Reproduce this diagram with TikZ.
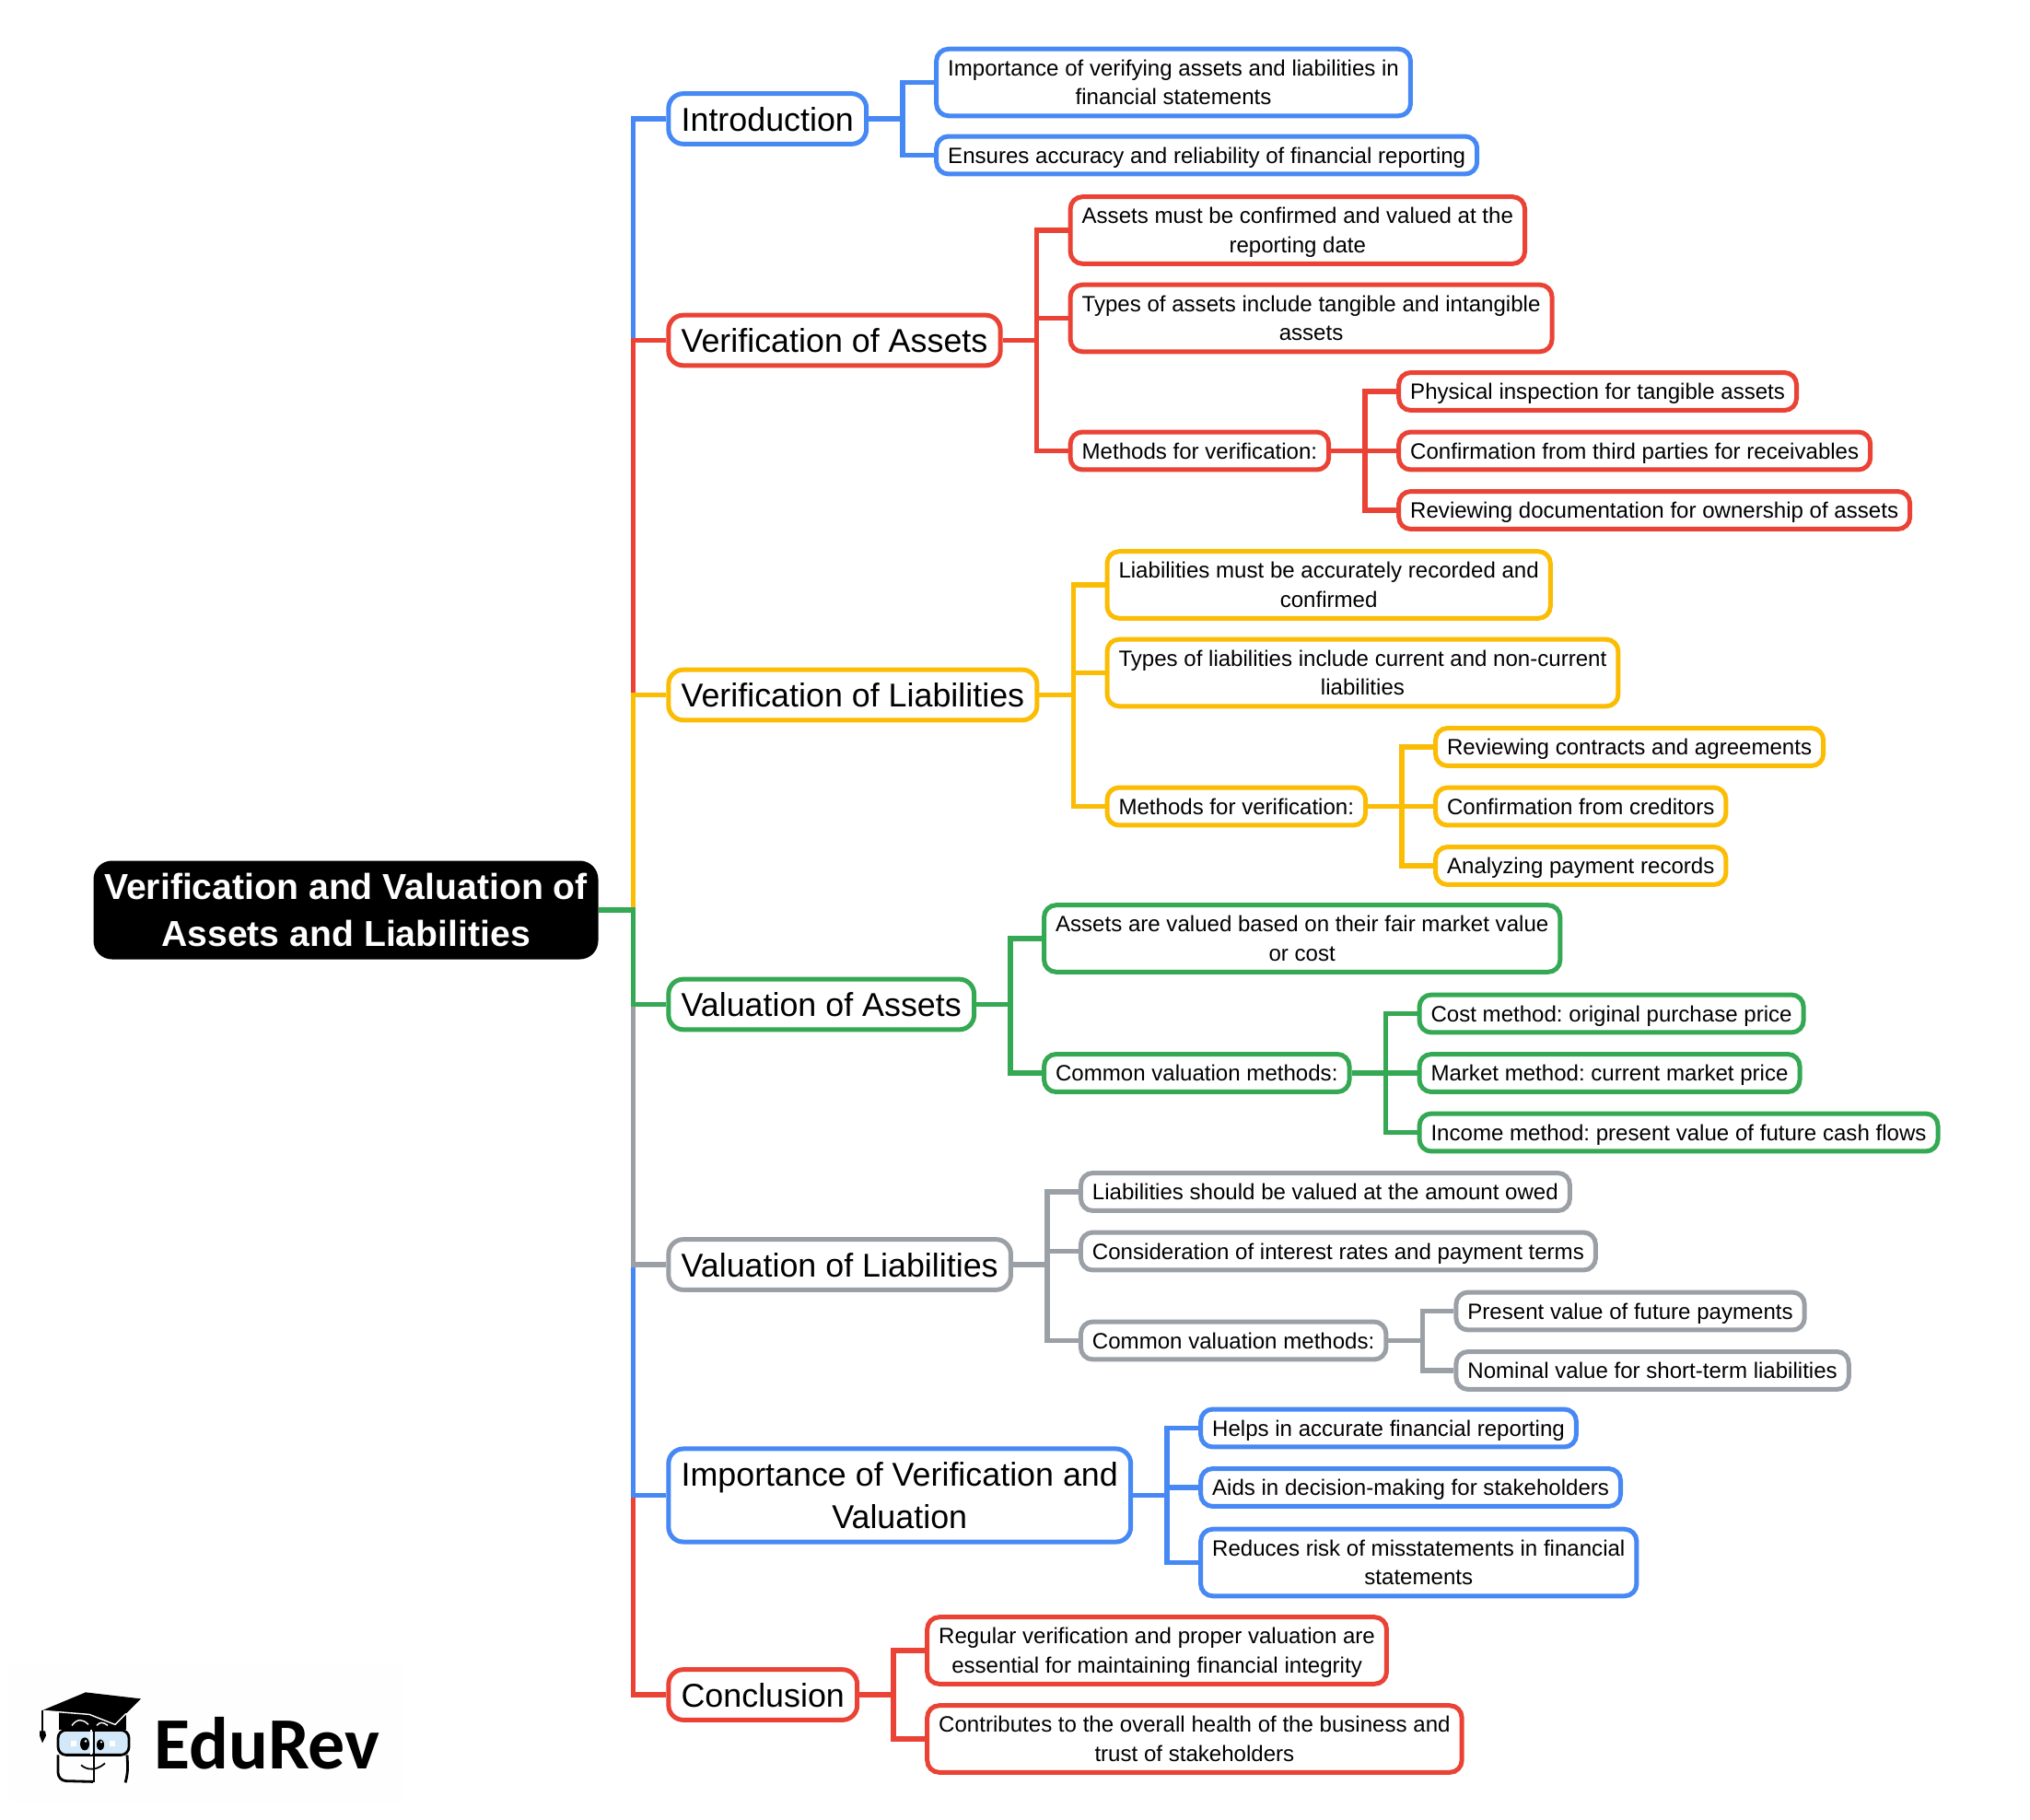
\documentclass[tikz,border=0pt]{standalone}
\usepackage{fontspec}
\setmainfont{Liberation Sans}
\newfontfamily\logofont{Carlito}
\usepackage{tikz}
\usetikzlibrary{positioning}
\definecolor{mapblue}{HTML}{4688F4}
\definecolor{mapred}{HTML}{EA4335}
\definecolor{mapyellow}{HTML}{FBBC04}
\definecolor{mapgreen}{HTML}{34A853}
\definecolor{mapgrey}{HTML}{9AA0A6}
\definecolor{lensblue}{HTML}{D3E8F8}

\begin{document}
\frenchspacing
\begin{tikzpicture}[
    node distance=1.42cm,
    rootbox/.style={rectangle, fill=black, text=white, font=\fontsize{22.3}{28.8}\selectfont\bfseries, align=center, rounded corners=0.4cm, minimum width=10.96cm, minimum height=2.14cm, inner sep=0pt},
    topic/.style={rectangle, draw, line width=0.1cm, fill=white, font=\fontsize{20.4}{26.4}\selectfont, align=center, rounded corners=0.32cm, inner xsep=0.275cm, inner ysep=0.083cm, execute at begin node={\rule[-5.75pt]{0pt}{26.4pt}}, execute at end node={\rule[-5.75pt]{0pt}{26.4pt}}},
    twotopic/.style={topic, execute at begin node={\rule[-5.75pt]{0pt}{52.8pt}}},
    leaf/.style={rectangle, draw, line width=0.1cm, fill=white, font=\fontsize{13.7}{18}\selectfont, align=center, rounded corners=0.26cm, inner xsep=0.25cm, inner ysep=0.093cm, execute at begin node={\rule[-4.1pt]{0pt}{18pt}}, execute at end node={\rule[-4.1pt]{0pt}{18pt}}},
    twoleaf/.style={leaf, execute at begin node={\rule[-4.1pt]{0pt}{36pt}}},
    elbow/.style={to path={-- ++(#1,0) |- (\tikztotarget)}},
    elbow/.default=0.74cm,
    branch/.style={line width=0.11cm, line join=miter}
]
\useasboundingbox (0,0) rectangle (44.08,-39.52);

% Root
\node[rootbox] (root) at (7.51,-19.76) {Verification and Valuation of\\Assets and Liabilities};

% Main topics
\node[topic, draw=mapblue, right=1.47cm of root, yshift=17.18cm] (intro) {Introduction};
\node[topic, draw=mapred, right=1.47cm of root, yshift=12.37cm] (vassets) {Verification of Assets};
\node[topic, draw=mapyellow, right=1.47cm of root, yshift=4.67cm] (vliab) {Verification of Liabilities};
\node[topic, draw=mapgreen, right=1.47cm of root, yshift=-2.05cm] (aassets) {Valuation of Assets};
\node[topic, draw=mapgrey, right=1.47cm of root, yshift=-7.70cm] (aliab) {Valuation of Liabilities};
\node[twotopic, draw=mapblue, right=1.47cm of root, yshift=-12.71cm] (importance) {Importance of Verification and\\Valuation};
\node[topic, draw=mapred, right=1.47cm of root, yshift=-17.04cm] (conclusion) {Conclusion};

% Introduction
\node[twoleaf, draw=mapblue, right=of intro, yshift=0.79cm] (intro1) {Importance of verifying assets and liabilities in\\financial statements};
\node[leaf, draw=mapblue, right=of intro, yshift=-0.79cm] (intro2) {Ensures accuracy and reliability of financial reporting};

% Verification of Assets
\node[twoleaf, draw=mapred, right=of vassets, yshift=2.39cm] (va1) {Assets must be confirmed and valued at the\\reporting date};
\node[twoleaf, draw=mapred, right=of vassets, yshift=0.48cm] (va2) {Types of assets include tangible and intangible\\assets};
\node[leaf, draw=mapred, right=of vassets, yshift=-2.40cm] (va3) {Methods for verification:};
\node[leaf, draw=mapred, right=of va3, yshift=1.29cm] (va31) {Physical inspection for tangible assets};
\node[leaf, draw=mapred, right=of va3] (va32) {Confirmation from third parties for receivables};
\node[leaf, draw=mapred, right=of va3, yshift=-1.29cm] (va33) {Reviewing documentation for ownership of assets};

% Verification of Liabilities
\node[twoleaf, draw=mapyellow, right=of vliab, yshift=2.39cm] (vl1) {Liabilities must be accurately recorded and\\confirmed};
\node[twoleaf, draw=mapyellow, right=of vliab, yshift=0.48cm] (vl2) {Types of liabilities include current and non-current\\liabilities};
\node[leaf, draw=mapyellow, right=of vliab, yshift=-2.42cm] (vl3) {Methods for verification:};
\node[leaf, draw=mapyellow, right=of vl3, yshift=1.29cm] (vl31) {Reviewing contracts and agreements};
\node[leaf, draw=mapyellow, right=of vl3] (vl32) {Confirmation from creditors};
\node[leaf, draw=mapyellow, right=of vl3, yshift=-1.29cm] (vl33) {Analyzing payment records};

% Valuation of Assets
\node[twoleaf, draw=mapgreen, right=of aassets, yshift=1.43cm] (aa1) {Assets are valued based on their fair market value\\or cost};
\node[leaf, draw=mapgreen, right=of aassets, yshift=-1.49cm] (aa2) {Common valuation methods:};
\node[leaf, draw=mapgreen, right=of aa2, yshift=1.29cm] (aa21) {Cost method: original purchase price};
\node[leaf, draw=mapgreen, right=of aa2] (aa22) {Market method: current market price};
\node[leaf, draw=mapgreen, right=of aa2, yshift=-1.29cm] (aa23) {Income method: present value of future cash flows};

% Valuation of Liabilities
\node[leaf, draw=mapgrey, right=of aliab, yshift=1.58cm] (al1) {Liabilities should be valued at the amount owed};
\node[leaf, draw=mapgrey, right=of aliab, yshift=0.29cm] (al2) {Consideration of interest rates and payment terms};
\node[leaf, draw=mapgrey, right=of aliab, yshift=-1.65cm] (al3) {Common valuation methods:};
\node[leaf, draw=mapgrey, right=of al3, yshift=0.64cm] (al31) {Present value of future payments};
\node[leaf, draw=mapgrey, right=of al3, yshift=-0.65cm] (al32) {Nominal value for short-term liabilities};

% Importance
\node[leaf, draw=mapblue, right=of importance, yshift=1.46cm] (im1) {Helps in accurate financial reporting};
\node[leaf, draw=mapblue, right=of importance, yshift=0.17cm] (im2) {Aids in decision-making for stakeholders};
\node[twoleaf, draw=mapblue, right=of importance, yshift=-1.46cm] (im3) {Reduces risk of misstatements in financial\\statements};

% Conclusion
\node[twoleaf, draw=mapred, right=of conclusion, yshift=0.96cm] (co1) {Regular verification and proper valuation are\\essential for maintaining financial integrity};
\node[twoleaf, draw=mapred, right=of conclusion, yshift=-0.96cm] (co2) {Contributes to the overall health of the business and\\trust of stakeholders};

% Edges from root, later ones lie over earlier ones on the spine
\draw[branch, mapblue] (root.east) to[elbow=0.75cm] (intro.west);
\draw[branch, mapred] (root.east) to[elbow=0.75cm] (vassets.west);
\draw[branch, mapyellow] (root.east) to[elbow=0.75cm] (vliab.west);
\draw[branch, mapred] (root.east) to[elbow=0.75cm] (conclusion.west);
\draw[branch, mapblue] (root.east) to[elbow=0.75cm] (importance.west);
\draw[branch, mapgrey] (root.east) to[elbow=0.75cm] (aliab.west);
\draw[branch, mapgreen] (root.east) to[elbow=0.75cm] (aassets.west);

% Edges to leaves
\draw[branch, mapblue] (intro.east) to[elbow] (intro1.west);
\draw[branch, mapblue] (intro.east) to[elbow] (intro2.west);
\draw[branch, mapred] (vassets.east) to[elbow] (va1.west);
\draw[branch, mapred] (vassets.east) to[elbow] (va2.west);
\draw[branch, mapred] (vassets.east) to[elbow] (va3.west);
\draw[branch, mapred] (va3.east) to[elbow] (va31.west);
\draw[branch, mapred] (va3.east) to[elbow] (va32.west);
\draw[branch, mapred] (va3.east) to[elbow] (va33.west);
\draw[branch, mapyellow] (vliab.east) to[elbow] (vl1.west);
\draw[branch, mapyellow] (vliab.east) to[elbow] (vl2.west);
\draw[branch, mapyellow] (vliab.east) to[elbow] (vl3.west);
\draw[branch, mapyellow] (vl3.east) to[elbow] (vl31.west);
\draw[branch, mapyellow] (vl3.east) to[elbow] (vl32.west);
\draw[branch, mapyellow] (vl3.east) to[elbow] (vl33.west);
\draw[branch, mapgreen] (aassets.east) to[elbow] (aa1.west);
\draw[branch, mapgreen] (aassets.east) to[elbow] (aa2.west);
\draw[branch, mapgreen] (aa2.east) to[elbow] (aa21.west);
\draw[branch, mapgreen] (aa2.east) to[elbow] (aa22.west);
\draw[branch, mapgreen] (aa2.east) to[elbow] (aa23.west);
\draw[branch, mapgrey] (aliab.east) to[elbow] (al1.west);
\draw[branch, mapgrey] (aliab.east) to[elbow] (al2.west);
\draw[branch, mapgrey] (aliab.east) to[elbow] (al3.west);
\draw[branch, mapgrey] (al3.east) to[elbow] (al31.west);
\draw[branch, mapgrey] (al3.east) to[elbow] (al32.west);
\draw[branch, mapblue] (importance.east) to[elbow] (im1.west);
\draw[branch, mapblue] (importance.east) to[elbow] (im2.west);
\draw[branch, mapblue] (importance.east) to[elbow] (im3.west);
\draw[branch, mapred] (conclusion.east) to[elbow] (co1.west);
\draw[branch, mapred] (conclusion.east) to[elbow] (co2.west);

% Logo, in pixels of the page
\begin{scope}[x=0.02cm, y=-0.02cm]
\fill[black!0.4] (10,1808) rectangle (437,1957);
\fill (64,1858) rectangle (137,1878);
\fill (45,1857) -- (93,1837) -- (153,1844) -- (125,1872) -- (97,1861) -- cycle;
\draw[white, line width=0.8pt] (47,1857) -- (97,1861) -- (125,1872) -- (137,1860);
\draw[white, line width=0.8pt] (78,1873) .. controls (84,1865) and (90,1866) .. (96,1872);
\draw[white, line width=0.8pt] (105,1873) .. controls (108,1869) and (112,1869) .. (117,1873);
\draw[line width=0.8pt] (46,1857) -- (46,1880);
\fill (43,1879) -- (49,1879) -- (50,1884) -- (46,1892) -- (43,1884) -- cycle;
\draw[line width=1.6pt, fill=lensblue, rounded corners=5pt] (63,1878) rectangle (140,1905);
\draw[white, line width=1.4pt] (99,1878) -- (99,1905);
\draw[line width=1.4pt] (102,1878) -- (102,1935);
\fill (92,1893) ellipse [x radius=5, y radius=7];
\fill (109,1894) ellipse [x radius=4, y radius=6];
\fill[white] (93,1890) circle (1.4);
\fill[white] (110,1891) circle (1.2);
\fill[white] (77,1890) rectangle (83,1896);
\fill[white] (119,1890) rectangle (125,1896);
\draw[line width=1.6pt, rounded corners=5pt] (63,1905) -- (63,1933) -- (101,1934);
\draw[line width=1.6pt, rounded corners=5pt] (138,1905) -- (139,1925) -- (136,1935);
\draw[line width=1pt] (88,1916) .. controls (95,1922) and (105,1922) .. (114,1914);
\node[anchor=base west, inner sep=0pt, font=\fontsize{45.5}{46}\logofont\bfseries] (logotext) at (167,1920) {EduRev};
\end{scope}

\end{tikzpicture}
\end{document}
